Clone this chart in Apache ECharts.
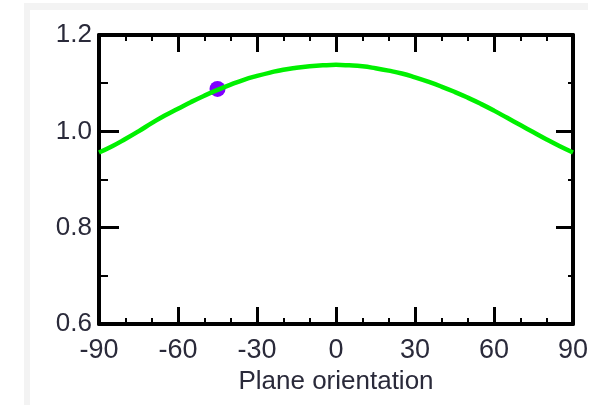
<!DOCTYPE html>
<html>
<head>
<meta charset="utf-8">
<script src="https://cdn.jsdelivr.net/npm/echarts@6/dist/echarts.min.js"></script>
<style>
  html, body { margin: 0; padding: 0; background: #fff; }
  #chart { width: 597px; height: 405px; }
</style>
</head>
<body>
<div id="chart"></div>
<script>
// plane orientation in degrees
var angles = [-90, -85, -80, -75, -70, -65, -60, -55, -50, -45, -40, -35, -30, -25, -20, -15, -10, -5,
  0, 5, 10, 15, 20, 25, 30, 35, 40, 45, 50, 55, 60, 65, 70, 75, 80, 85, 90]
var values = [0.956, 0.969, 0.984, 1.000, 1.017, 1.033, 1.047, 1.061, 1.074, 1.086, 1.097, 1.107, 1.115,
  1.122, 1.128, 1.132, 1.135, 1.137, 1.138, 1.137, 1.135, 1.131, 1.126, 1.120, 1.112, 1.103, 1.093,
  1.082, 1.070, 1.057, 1.043, 1.028, 1.013, 0.998, 0.983, 0.969, 0.956]
var marker = [[-45, 1.088]]
var xTicks = { min: -90, max: 90, step: 30 }
var yTicks = { min: 0.6, max: 1.2, step: 0.2 }

var chart = echarts.init(document.getElementById('chart'))

var font = 'Liberation Sans, Arial, sans-serif'
var textColor = '#2a2a3a'
var lineBlack = { show: true, onZero: false, lineStyle: { color: '#000', width: 4 } }

function xAxisCfg(pos, showLabels) {
  return {
    type: 'value',
    position: pos,
    min: xTicks.min,
    max: xTicks.max,
    interval: xTicks.step,
    axisLine: lineBlack,
    axisTick: { show: true, inside: true, length: 17, lineStyle: { color: '#000', width: 3 } },
    minorTick: { show: true, splitNumber: 3, length: 6, lineStyle: { color: '#000', width: 2 } },
    splitLine: { show: false },
    axisLabel: { show: showLabels, fontFamily: font, fontSize: 27, color: textColor, margin: 13 },
    name: showLabels ? 'Plane orientation' : '',
    nameLocation: 'middle',
    nameGap: 39,
    nameTextStyle: { fontFamily: font, fontSize: 26, color: textColor },
  }
}

function yAxisCfg(pos, showLabels) {
  return {
    type: 'value',
    position: pos,
    min: yTicks.min,
    max: yTicks.max,
    interval: yTicks.step,
    axisLine: lineBlack,
    axisTick: { show: true, inside: true, length: showLabels ? 20 : 17, lineStyle: { color: '#000', width: 3 } },
    minorTick: { show: true, splitNumber: 2, length: showLabels ? 9 : 5, lineStyle: { color: '#000', width: 2 } },
    splitLine: { show: false },
    axisLabel: {
      show: showLabels, fontFamily: font, fontSize: 26, color: textColor, margin: 7,
      formatter: function (v) { return v.toFixed(1) },
    },
  }
}

chart.setOption({
  animation: false,
  backgroundColor: '#fff',
  graphic: [
    // light grey frame around the panel
    { type: 'rect', shape: { x: 24, y: 3, width: 564, height: 7 }, style: { fill: '#f3f3f3' }, silent: true },
    { type: 'rect', shape: { x: 24, y: 3, width: 6, height: 402 }, style: { fill: '#f3f3f3' }, silent: true },
  ],
  grid: { left: 99, right: 24, top: 35, bottom: 81 },
  xAxis: [xAxisCfg('bottom', true), xAxisCfg('top', false)],
  yAxis: [yAxisCfg('left', true), yAxisCfg('right', false)],
  series: [
    {
      type: 'line',
      data: angles.map(function (a, i) { return [a, values[i]] }),
      smooth: true,
      showSymbol: false,
      lineStyle: { color: '#00f000', width: 4.5 },
    },
    {
      type: 'scatter',
      data: marker,
      symbolSize: 16,
      itemStyle: { color: '#8000ff', opacity: 1 },
    },
  ],
})
</script>
</body>
</html>
